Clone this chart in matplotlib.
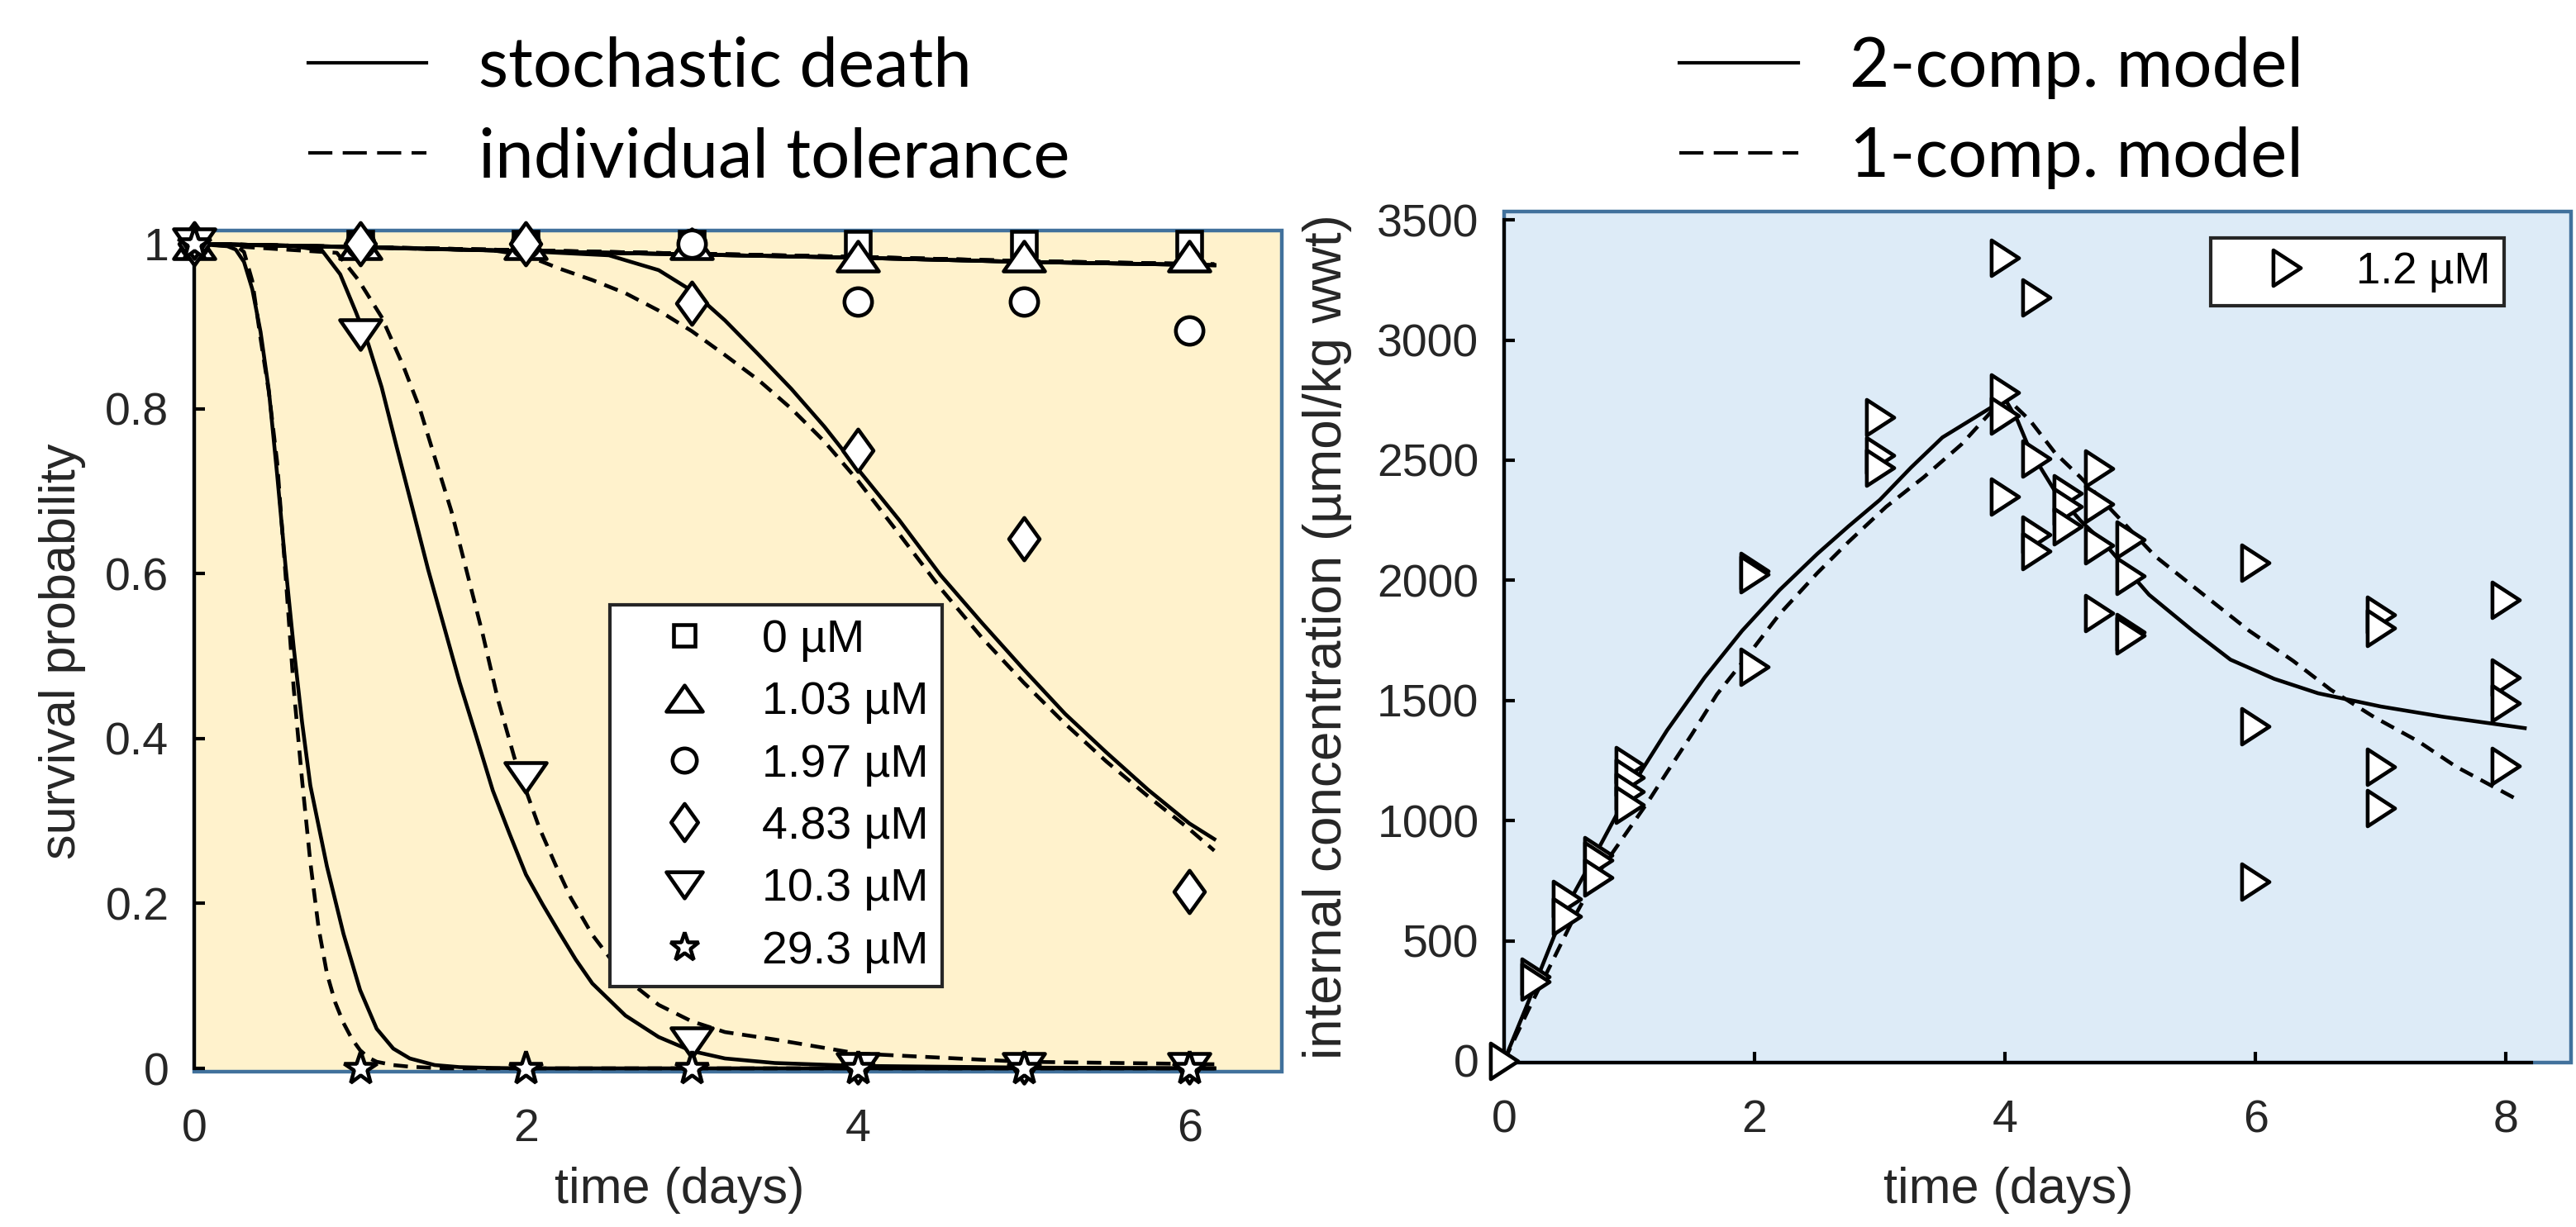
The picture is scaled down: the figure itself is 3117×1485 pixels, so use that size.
import numpy as np
import matplotlib.pyplot as plt
from matplotlib.path import Path
from matplotlib.lines import Line2D

plt.rcParams['font.family'] = ['Liberation Sans', 'DejaVu Sans']

# ---- survival data (left panel) ----
days = [0, 1, 2, 3, 4, 5, 6]
surv_0 = [1, 1, 1, 1, 1, 1, 1]
surv_103 = [1, 1, 1, 1, 0.985, 0.985, 0.985]
surv_197 = [1, 1, 1, 1, 0.93, 0.93, 0.895]
surv_483 = [1, 1, 1, 0.928, 0.749, 0.642, 0.214]
surv_1030 = [1, 0.89, 0.353, 0.031, 0, 0, 0]
surv_293 = [1, 0, 0, 0, 0, 0, 0]
conc_labels = ['0 µM', '1.03 µM', '1.97 µM', '4.83 µM', '10.3 µM', '29.3 µM']

# model curves (SD = solid, IT = dashed)
t_ctrl = [0, 1, 2, 3, 4, 5, 6.15]
sd_ctrl = [1.0, 0.996, 0.991, 0.987, 0.983, 0.978, 0.974]
it_ctrl = [1.0, 0.996, 0.992, 0.988, 0.984, 0.979, 0.975]

t_sd_483 = [0, 2.0, 2.5, 2.8, 3.0, 3.2, 3.4, 3.6, 3.8, 4.0, 4.25, 4.5, 4.75, 5.0,
            5.25, 5.5, 5.75, 6.0, 6.15]
sd_483 = [1.0, 0.991, 0.986, 0.968, 0.943, 0.907, 0.866, 0.824, 0.778, 0.727,
          0.665, 0.598, 0.54, 0.484, 0.43, 0.383, 0.338, 0.297, 0.278]
t_it_483 = [0, 1.8, 2.0, 2.2, 2.4, 2.6, 2.8, 3.0, 3.2, 3.4, 3.6, 3.8, 4.0, 4.25,
            4.5, 4.75, 5.0, 5.25, 5.5, 5.75, 6.0, 6.15]
it_483 = [1.0, 0.992, 0.986, 0.970, 0.956, 0.940, 0.919, 0.894, 0.865, 0.835,
          0.80, 0.76, 0.713, 0.648, 0.582, 0.522, 0.468, 0.418, 0.372, 0.33,
          0.29, 0.264]

t_sd_1030 = [0, 0.6, 0.77, 0.88, 0.975, 1.05, 1.13, 1.22, 1.32, 1.41, 1.51, 1.6,
             1.7, 1.8, 1.9, 2.0, 2.1, 2.2, 2.3, 2.4, 2.6, 2.8, 3.0, 3.2, 3.5,
             4.0, 5.0, 6.15]
sd_1030 = [1.0, 0.997, 0.992, 0.963, 0.917, 0.878, 0.826, 0.754, 0.676, 0.605,
           0.533, 0.468, 0.403, 0.337, 0.285, 0.235, 0.199, 0.165, 0.132, 0.103,
           0.064, 0.038, 0.021, 0.012, 0.0065, 0.003, 0.001, 0.0]
t_it_1030 = [0, 0.86, 0.99, 1.13, 1.26, 1.36, 1.45, 1.55, 1.64, 1.74, 1.83, 1.93,
             2.0, 2.08, 2.18, 2.27, 2.4, 2.6, 2.8, 3.0, 3.2, 3.5, 4.0, 5.0, 6.15]
it_1030 = [1.0, 0.989, 0.956, 0.911, 0.852, 0.80, 0.741, 0.676, 0.605, 0.526,
           0.448, 0.377, 0.337, 0.292, 0.246, 0.207, 0.162, 0.109, 0.077, 0.057,
           0.044, 0.035, 0.018, 0.008, 0.005]

t_sd_293 = [0, 0.2, 0.25, 0.3, 0.35, 0.4, 0.45, 0.5, 0.55, 0.6, 0.65, 0.7, 0.8,
            0.9, 1.0, 1.1, 1.2, 1.3, 1.45, 1.6, 1.8, 2.0, 6.15]
sd_293 = [1.0, 0.997, 0.993, 0.978, 0.945, 0.893, 0.822, 0.72, 0.61, 0.51, 0.42,
          0.343, 0.245, 0.163, 0.095, 0.048, 0.024, 0.012, 0.004, 0.0015, 0.0005,
          0.0, 0.0]
t_it_293 = [0, 0.25, 0.3, 0.35, 0.4, 0.45, 0.5, 0.55, 0.6, 0.65, 0.7, 0.75, 0.8,
            0.85, 0.9, 0.95, 1.0, 1.05, 1.1, 1.2, 1.3, 1.5, 6.15]
it_293 = [1.0, 0.998, 0.99, 0.955, 0.885, 0.82, 0.735, 0.60, 0.46, 0.35, 0.25,
          0.17, 0.115, 0.08, 0.055, 0.036, 0.022, 0.013, 0.008, 0.004, 0.002,
          0.0, 0.0]

# ---- internal concentration (right panel) ----
conc_t = [0, 0.25, 0.25, 0.5, 0.5, 0.75, 0.75, 0.75, 1, 1, 1, 1, 2, 2, 2,
          3, 3, 3, 4, 4, 4, 4, 4.25, 4.25, 4.25, 4.25, 4.5, 4.5, 4.5,
          4.75, 4.75, 4.75, 4.75, 5, 5, 5, 5, 6, 6, 6, 7, 7, 7, 7, 8, 8, 8, 8]
conc_v = [0, 350, 330, 675, 600, 855, 835, 765, 1230, 1180, 1120, 1065,
          2040, 2025, 1640, 2680, 2520, 2470, 3343, 2782, 2686, 2347,
          3178, 2507, 2192, 2123, 2364, 2307, 2226, 2467, 2318, 2146, 1865,
          2169, 2020, 1785, 1772, 2072, 1392, 746, 1857, 1803, 1225, 1051,
          1919, 1597, 1489, 1228]

t_2c = [0, 0.2, 0.3, 0.4, 0.55, 0.75, 0.95, 1.1, 1.3, 1.6, 1.9, 2.2, 2.5, 2.75,
        3.0, 3.25, 3.5, 3.75, 4.0, 4.1, 4.2, 4.4, 4.6, 4.8, 5.0, 5.15, 5.5, 5.8,
        6.15, 6.5, 7.0, 7.5, 8.15]
c_2c = [0, 254, 390, 520, 690, 880, 1075, 1210, 1375, 1595, 1790, 1960, 2110,
        2225, 2335, 2470, 2595, 2675, 2755, 2665, 2540, 2370, 2250, 2150, 2030,
        1940, 1790, 1670, 1590, 1530, 1475, 1432, 1385]
t_1c = [0, 0.2, 0.55, 0.75, 1.15, 1.3, 1.5, 1.7, 1.95, 2.2, 2.5, 2.75, 3.05,
        3.35, 3.65, 4.0, 4.2, 4.4, 4.6, 4.9, 5.2, 5.55, 5.95, 6.3, 6.6, 6.95,
        7.3, 7.6, 8.1]
c_1c = [0, 219, 588, 780, 1079, 1201, 1360, 1526, 1690, 1860, 2030, 2160, 2306,
        2429, 2565, 2765, 2665, 2530, 2430, 2265, 2100, 1955, 1790, 1665, 1545,
        1430, 1330, 1225, 1085]

# ---- styling ----
edge_blue = '#41719C'
txt = '#262626'
lw = 3.3
dash = (0, (3.8, 2.3))
mew = 3.3


def poly_marker(pts):
    codes = [Path.MOVETO] + [Path.LINETO] * (len(pts) - 1) + [Path.CLOSEPOLY]
    return Path(pts + [pts[0]], codes)


tri_up = poly_marker([(-1, -0.72), (1, -0.72), (0, 0.72)])
tri_dn = poly_marker([(-1, 0.72), (1, 0.72), (0, -0.72)])
tri_rt = poly_marker([(-0.77, -1), (-0.77, 1), (0.77, 0)])
diam = poly_marker([(0, 1), (0.72, 0), (0, -1), (-0.72, 0)])

fig = plt.figure(figsize=(31.17, 14.85), dpi=100)
ax1 = fig.add_axes([0.0754, 0.1266, 0.4222, 0.6855])
ax2 = fig.add_axes([0.5839, 0.1340, 0.4142, 0.6936])

# left panel
curves = [(t_ctrl, sd_ctrl, t_ctrl, it_ctrl),
          (t_ctrl, sd_ctrl, t_ctrl, it_ctrl),
          (t_ctrl, sd_ctrl, t_ctrl, it_ctrl),
          (t_sd_483, sd_483, t_it_483, it_483),
          (t_sd_1030, sd_1030, t_it_1030, it_1030),
          (t_sd_293, sd_293, t_it_293, it_293)]
for ts, ys, ti, yi in curves:
    ax1.plot(ts, ys, color='k', lw=lw, zorder=3)
    ax1.plot(ti, yi, color='k', lw=lw, ls=dash, zorder=3)

surv = [surv_0, surv_103, surv_197, surv_483, surv_1030, surv_293]
marks = ['s', tri_up, 'o', diam, tri_dn, '*']
sizes = [21, 36, 24, 37, 36, 30]
for s, m, ms, lab in zip(surv, marks, sizes, conc_labels):
    ax1.plot(days, s, ls='none', marker=m, ms=ms, mfc='white', mec='k',
             mew=mew, label=lab, zorder=4, clip_on=False)

ax1.set_xlim(0, 6.557)
ax1.set_ylim(-0.004, 1.016)
ax1.set_facecolor('#FFF2CC')
ax1.patch.set_edgecolor(edge_blue)
ax1.patch.set_linewidth(3.2)
for sp in ['top', 'right', 'bottom']:
    ax1.spines[sp].set_visible(False)
ax1.spines['left'].set_bounds(0, 1)
ax1.spines['left'].set_linewidth(3)
ax1.spines['left'].set_zorder(2.5)
ax1.set_yticks([0, 0.2, 0.4, 0.6, 0.8, 1])
ax1.set_yticklabels(['0', '0.2', '0.4', '0.6', '0.8', '1'])
ax1.set_xticks([0, 2, 4, 6])
ax1.tick_params(axis='y', direction='in', length=9.5, width=3, pad=22,
                labelsize=40, labelcolor=txt)
ax1.tick_params(axis='x', length=0, pad=32, labelsize=40, labelcolor=txt)
ax1.set_xlabel('time (days)', fontsize=44, color=txt)
ax1.xaxis.set_label_coords(0.446, -0.113)
ax1.set_ylabel('survival probability', fontsize=44, color=txt, va='center')
ax1.yaxis.set_label_coords(-0.121, 0.5)

leg1 = ax1.legend(loc='lower left', bbox_to_anchor=(0.382, 0.101), fontsize=40,
                  handlelength=2.66, handletextpad=0.35, borderpad=0.3,
                  labelspacing=0.42, borderaxespad=0, fancybox=False,
                  framealpha=1, edgecolor=txt, markerscale=0.88)
leg1.get_frame().set_linewidth(3)
leg1.set_zorder(6)

# right panel
ax2.plot(t_2c, c_2c, color='k', lw=lw, zorder=3)
ax2.plot(t_1c, c_1c, color='k', lw=lw, ls=dash, zorder=3)
ax2.plot(conc_t, conc_v, ls='none', marker=tri_rt, ms=31, mfc='white', mec='k',
         mew=mew, label='1.2 µM', zorder=4, clip_on=False)
ax2.set_xlim(0, 8.52)
ax2.set_ylim(-7, 3535)
ax2.set_facecolor('#DDEBF7')
ax2.patch.set_edgecolor(edge_blue)
ax2.patch.set_linewidth(3.2)
ax2.spines['top'].set_visible(False)
ax2.spines['right'].set_visible(False)
ax2.spines['left'].set_bounds(0, 3500)
ax2.spines['bottom'].set_bounds(0, 8.2)
for sp in ['left', 'bottom']:
    ax2.spines[sp].set_linewidth(3)
ax2.set_yticks(np.arange(0, 3501, 500))
ax2.set_xticks([0, 2, 4, 6, 8])
ax2.tick_params(axis='y', direction='in', length=9.5, width=3, pad=22,
                labelsize=40, labelcolor=txt)
ax2.tick_params(axis='x', direction='in', length=9.5, width=3, pad=32,
                labelsize=40, labelcolor=txt)
ax2.set_xlabel('time (days)', fontsize=44, color=txt)
ax2.xaxis.set_label_coords(0.4725, -0.122)
ax2.set_ylabel('internal concentration (µmol/kg wwt)', fontsize=46, color=txt,
               va='center')
ax2.yaxis.set_label_coords(-0.166, 0.5)

leg2 = ax2.legend(loc='upper right', bbox_to_anchor=(0.937, 0.969), fontsize=38,
                  handlelength=2.9, handletextpad=0.15, borderpad=0.3,
                  borderaxespad=0, fancybox=False, framealpha=1, edgecolor=txt)
leg2.get_frame().set_linewidth(3)

# model legends above the panels
top_font = {'family': 'Lato', 'size': 60}
h_solid = Line2D([], [], color='k', lw=3.0)
h_dash = Line2D([], [], color='k', lw=3.0, ls=(0, (7, 3)))
fig.legend([h_solid, h_dash], ['stochastic death', 'individual tolerance'],
           loc='upper left', bbox_to_anchor=(0.1197, 0.9705), frameon=False,
           prop=top_font, handlelength=1.72, handletextpad=0.75,
           labelspacing=0.40, borderpad=0, borderaxespad=0)
fig.legend([h_solid, h_dash], ['2-comp. model', '1-comp. model'],
           loc='upper left', bbox_to_anchor=(0.652, 0.9705), frameon=False,
           prop=top_font, handlelength=1.72, handletextpad=0.75,
           labelspacing=0.40, borderpad=0, borderaxespad=0)

fig.savefig('out.png', dpi=100)
